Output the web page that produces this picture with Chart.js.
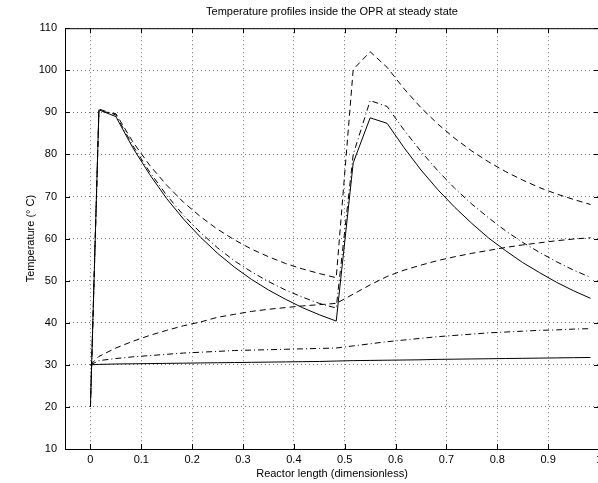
<!DOCTYPE html>
<html>
<head>
<meta charset="utf-8">
<script src="https://cdn.jsdelivr.net/npm/chart.js@4"></script>
<style>
  html, body { margin: 0; padding: 0; background: #fff; overflow: hidden; }
  #wrap { width: 640px; height: 483px; }
</style>
</head>
<body>
<div id="wrap"><canvas id="grafico" width="640" height="483"></canvas></div>
<script>
// posições ao longo do reator (centros das células)
const xPos = [0, 0.0167, 0.05, 0.0833, 0.1167, 0.15, 0.1833, 0.2167, 0.25, 0.2833, 0.3167,
  0.35, 0.3833, 0.4167, 0.45, 0.4833, 0.5167, 0.55, 0.5833, 0.6167, 0.65,
  0.6833, 0.7167, 0.75, 0.7833, 0.8167, 0.85, 0.8833, 0.9167, 0.95, 0.9833];

// perfis quentes
const solidHot = [20, 90.6, 89.0, 81.6, 75.2, 69.5, 64.6, 60.3, 56.5, 53.2, 50.3,
  47.8, 45.6, 43.6, 41.9, 40.4, 78.0, 88.7, 87.4, 81.6, 76.3,
  71.6, 67.4, 63.6, 60.1, 57.1, 54.3, 51.9, 49.6, 47.6, 45.8];
const dashDotHot = [20, 90.8, 89.4, 82.1, 75.8, 70.3, 65.5, 61.4, 57.8, 54.7, 52.1,
  49.8, 47.8, 46.1, 44.6, 43.5, 80.0, 92.8, 91.4, 85.8, 80.7,
  76.1, 71.9, 68.2, 64.9, 61.8, 59.1, 56.7, 54.5, 52.5, 50.8];
const dashedHot = [20, 90.3, 89.7, 83.0, 77.4, 72.7, 68.6, 65.2, 62.2, 59.7, 57.5,
  55.7, 54.1, 52.8, 51.7, 50.7, 100.2, 104.4, 100.7, 95.6, 91.1,
  87.2, 83.8, 80.8, 78.2, 75.9, 73.9, 72.1, 70.6, 69.3, 68.1];

// perfis frios
const solidCold = [30, 30.1, 30.2, 30.25, 30.3, 30.35, 30.4, 30.45, 30.5, 30.55, 30.6,
  30.65, 30.7, 30.75, 30.8, 30.9, 31.0, 31.05, 31.1, 31.15, 31.2,
  31.3, 31.35, 31.4, 31.45, 31.5, 31.55, 31.6, 31.65, 31.7, 31.75];
const dashDotCold = [30, 31.0, 31.5, 31.9, 32.2, 32.5, 32.8, 33.0, 33.2, 33.4, 33.5,
  33.6, 33.7, 33.8, 33.9, 34.0, 34.5, 35.0, 35.5, 35.9, 36.3,
  36.7, 37.0, 37.3, 37.6, 37.8, 38.0, 38.2, 38.3, 38.5, 38.6];
const dashedCold = [30, 32.0, 34.0, 35.6, 37.0, 38.2, 39.3, 40.2, 41.3, 42.0, 42.7,
  43.2, 43.6, 44.0, 44.3, 44.6, 46.8, 49.0, 51.0, 52.5, 53.7,
  54.8, 55.7, 56.5, 57.2, 57.9, 58.5, 59.0, 59.5, 59.9, 60.2];

const xTicks = [0, 0.1, 0.2, 0.3, 0.4, 0.5, 0.6, 0.7, 0.8, 0.9, 1];
const yTicks = [10, 20, 30, 40, 50, 60, 70, 80, 90, 100, 110];

const fonte = { family: 'Liberation Sans, Arial, sans-serif', size: 11, weight: 'normal' };

function serie(valores, dash) {
  return {
    data: valores.map((v, i) => ({ x: xPos[i], y: v })),
    borderColor: '#000',
    borderWidth: 1,
    borderDash: dash,
    pointRadius: 0,
    fill: false,
    tension: 0
  };
}

// caixa do eixo e marcas internas (estilo MATLAB)
const caixa = {
  id: 'caixa',
  afterDraw(chart) {
    const { ctx, chartArea: a, scales: { x, y } } = chart;
    ctx.save();
    ctx.strokeStyle = '#000';
    ctx.lineWidth = 1;
    ctx.setLineDash([]);
    ctx.strokeRect(a.left + 0.5, a.top + 0.5, a.right - a.left, a.bottom - a.top);
    ctx.beginPath();
    xTicks.forEach(v => {
      const px = Math.round(x.getPixelForValue(v)) + 0.5;
      ctx.moveTo(px, a.bottom); ctx.lineTo(px, a.bottom - 5);
      ctx.moveTo(px, a.top); ctx.lineTo(px, a.top + 5);
    });
    yTicks.forEach(v => {
      const py = Math.round(y.getPixelForValue(v)) + 0.5;
      ctx.moveTo(a.left, py); ctx.lineTo(a.left + 5, py);
      ctx.moveTo(a.right, py); ctx.lineTo(a.right - 5, py);
    });
    ctx.stroke();
    ctx.restore();
  }
};

new Chart(document.getElementById('grafico'), {
  type: 'line',
  data: {
    datasets: [
      serie(solidHot, []),
      serie(dashDotHot, [6, 3, 1, 3]),
      serie(dashedHot, [6, 4]),
      serie(solidCold, []),
      serie(dashDotCold, [6, 3, 1, 3]),
      serie(dashedCold, [6, 4])
    ]
  },
  options: {
    responsive: false,
    animation: false,
    layout: { padding: { left: 0, right: 41, top: 0, bottom: 0 } },
    plugins: {
      legend: { display: false },
      tooltip: { enabled: false },
      title: {
        display: true,
        text: 'Temperature profiles inside the OPR at steady state',
        font: fonte,
        color: '#000',
        fullSize: false,
        padding: { top: 5, bottom: 10 }
      }
    },
    scales: {
      x: {
        type: 'linear',
        min: -0.05,
        max: 1,
        afterBuildTicks: s => { s.ticks = xTicks.map(v => ({ value: v })); },
        afterFit: s => { s.height = 34; },
        ticks: {
          font: fonte,
          color: '#000',
          padding: 4,
          maxRotation: 0,
          autoSkip: false,
          callback: v => String(+v.toFixed(1))
        },
        grid: { color: 'rgba(0,0,0,0.55)', lineWidth: 1, drawTicks: false },
        border: { display: false, dash: [1, 3] },
        title: {
          display: true,
          text: 'Reactor length (dimensionless)',
          font: fonte,
          color: '#000',
          padding: { top: 0, bottom: 2 }
        }
      },
      y: {
        min: 10,
        max: 110,
        afterBuildTicks: s => { s.ticks = yTicks.map(v => ({ value: v })); },
        afterFit: s => { s.width = 65; },
        ticks: { font: fonte, color: '#000', padding: 8, autoSkip: false },
        grid: { color: 'rgba(0,0,0,0.55)', lineWidth: 1, drawTicks: false },
        border: { display: false, dash: [1, 3] },
        title: {
          display: true,
          text: 'Temperature (° C)',
          font: fonte,
          color: '#000',
          padding: { top: 24, bottom: 0 }
        }
      }
    }
  },
  plugins: [caixa]
});
</script>
</body>
</html>
